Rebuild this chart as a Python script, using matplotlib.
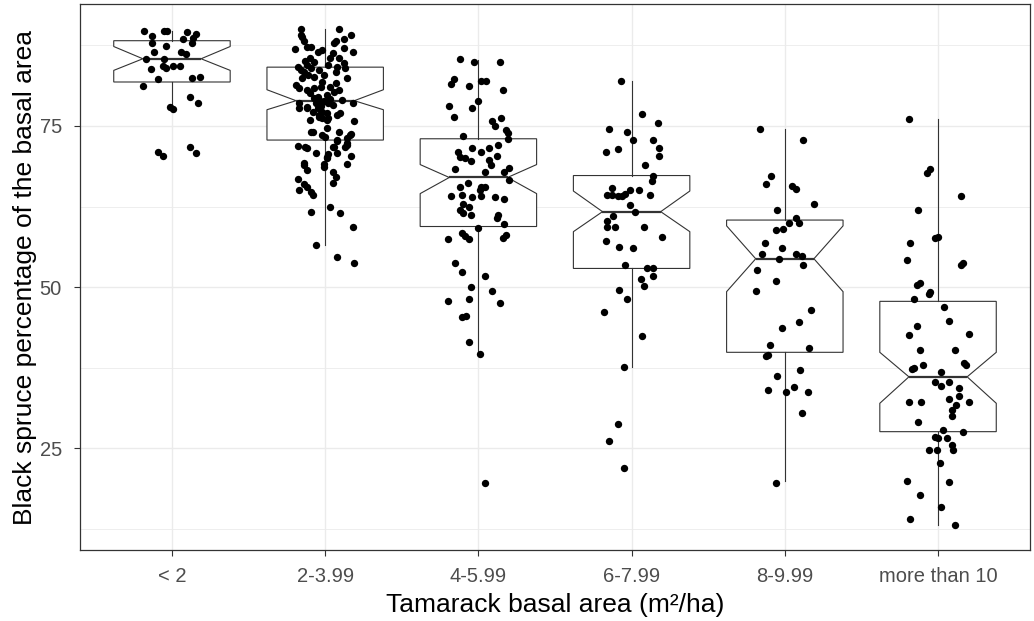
import matplotlib
matplotlib.use("Agg")
import matplotlib.pyplot as plt
import numpy as np

plt.rcParams['font.family'] = ['Liberation Sans', 'DejaVu Sans']

categories = ["< 2", "2-3.99", "4-5.99", "6-7.99", "8-9.99", "more than 10"]

# black spruce % per tamarack class, with the horizontal jitter
vals_lt2 = [89.7, 89.0, 89.7, 89.7, 89.5, 89.2, 88.6, 88.4, 87.9, 87.9, 87.4, 86.4,
            86.4, 86.2, 85.3, 85.3, 83.8, 84.3, 84.0, 84.3, 84.3, 82.2, 82.4, 82.6,
            81.2, 79.4, 78.5, 77.9, 77.6, 71.0, 70.4, 71.7, 70.8]
jit_lt2 = [-0.18, -0.13, -0.05, -0.03, 0.10, 0.16, 0.14, 0.07, 0.13, -0.13, -0.04, -0.12,
           0.06, 0.09, -0.17, -0.05, -0.14, -0.06, -0.04, 0.01, 0.05, -0.09, 0.13, 0.18,
           -0.19, 0.12, 0.17, -0.01, 0.01, -0.09, -0.06, 0.12, 0.16]

vals_2_4 = [90.0, 90.0, 89.1, 88.8, 89.1, 88.4, 88.1, 86.9, 87.3, 87.3, 87.9, 88.1,
            87.0, 86.4, 86.5, 86.8, 86.3, 85.5, 84.7, 85.0, 84.5, 84.2, 83.7, 83.4,
            83.9, 83.7, 84.5, 84.2, 83.9, 82.9, 82.6, 82.9, 83.4, 82.4, 81.4, 80.8,
            80.6, 80.8, 81.7, 80.6, 81.1, 80.1, 79.5, 79.8, 80.3, 78.5, 77.7, 78.0,
            78.5, 77.7, 78.8, 78.5, 78.3, 77.2, 77.0, 76.4, 76.2, 76.7, 77.0, 78.6,
            75.8, 74.0, 73.6, 73.3, 74.6, 74.1, 73.6, 73.7, 72.6, 72.3, 71.8, 71.9,
            71.7, 71.8, 70.8, 70.7, 70.2, 70.8, 70.4, 69.1, 69.1, 69.2, 68.2, 67.9,
            67.1, 66.7, 66.0, 65.0, 64.7, 64.3, 66.2, 61.7, 62.5, 61.5, 59.4, 56.5,
            54.6, 53.7,
            77.8, 76.7, 76.2, 75.9, 74.0, 73.1, 71.6, 72.8, 71.8, 72.1, 70.0, 68.6,
            69.0, 65.6, 79.3, 79.0, 79.2, 78.1, 77.2, 85.5, 84.9, 85.5, 81.8, 81.0,
            82.4, 79.0, 75.9]
jit_2_4 = [-0.16, 0.09, -0.16, -0.15, 0.17, 0.12, -0.14, -0.20, -0.12, -0.09, 0.06, 0.07,
           0.12, 0.18, -0.05, -0.02, 0.05, 0.09, 0.12, -0.13, -0.12, -0.18, -0.16, -0.14,
           -0.09, -0.04, 0.02, 0.08, 0.13, -0.11, -0.07, -0.01, 0.07, 0.14, -0.19, -0.17,
           -0.12, -0.07, 0.07, 0.09, -0.03, -0.10, -0.05, 0.01, 0.06, -0.17, -0.17, -0.12,
           -0.06, -0.05, -0.01, 0.02, 0.05, -0.02, 0.01, -0.04, 0.02, 0.08, 0.10, 0.18,
           0.19, -0.09, -0.02, 0.00, 0.01, 0.09, 0.16, 0.17, 0.08, 0.14, 0.13, -0.18,
           -0.13, 0.06, -0.06, 0.02, 0.01, 0.08, 0.17, -0.01, 0.14, -0.14, -0.12, 0.05,
           0.07, -0.18, -0.14, -0.17, -0.09, -0.08, 0.05, -0.09, 0.03, 0.10, 0.18, -0.06,
           0.08, 0.19,
           -0.12, -0.04, -0.02, 0.01, -0.08, 0.14, -0.12, 0.08, 0.05, 0.14, 0.01, -0.01,
           -0.14, -0.12, -0.07, -0.04, 0.03, -0.03, -0.08, -0.10, -0.07, 0.03, -0.02, 0.03,
           -0.15, 0.11, -0.10]

vals_4_6 = [85.3, 84.9, 84.9, 82.2, 81.5, 81.2, 81.9, 82.0, 80.6, 78.9, 78.1, 77.8,
            76.4, 75.7, 75.0, 76.2, 74.4, 73.9, 72.9, 73.5, 71.6, 71.0, 71.6, 72.1,
            70.9, 70.2, 70.0, 69.6, 69.7, 69.0, 70.4, 68.3, 67.9, 67.9, 68.5, 66.6,
            66.2, 65.6, 64.3, 65.6, 65.6, 65.0, 64.2, 64.0, 64.1, 64.0, 63.7, 62.9,
            62.5, 62.0, 61.5, 61.2, 61.2, 60.7, 59.8, 59.2, 57.5, 58.4, 57.9, 57.5,
            58.1, 57.6, 53.8, 52.3, 51.7, 50.0, 49.4, 47.9, 48.2, 47.6, 45.3, 45.5,
            41.5, 39.7, 19.6]
jit_4_6 = [-0.12, -0.03, 0.14, -0.16, -0.18, -0.06, 0.02, 0.05, 0.16, 0.00, -0.19, -0.04,
           -0.16, 0.09, 0.11, 0.15, 0.18, 0.19, 0.19, -0.10, -0.04, 0.02, 0.07, 0.13,
           -0.13, -0.12, -0.09, -0.05, 0.07, 0.08, 0.12, -0.15, 0.04, 0.17, 0.20, 0.20,
           -0.07, -0.12, -0.11, 0.02, 0.04, 0.01, -0.18, -0.04, 0.02, 0.11, 0.17, -0.10,
           -0.06, -0.12, -0.10, -0.05, 0.13, 0.12, 0.17, 0.00, -0.20, -0.11, -0.09, -0.06,
           0.18, 0.16, -0.15, -0.11, 0.04, -0.05, 0.09, -0.20, -0.06, 0.14, -0.11, -0.08,
           -0.06, 0.01, 0.04]

vals_6_8 = [82.0, 76.9, 75.4, 74.5, 74.1, 72.8, 72.8, 71.6, 70.4, 71.0, 71.4, 69.0,
            67.3, 66.4, 65.4, 64.3, 64.3, 64.1, 64.1, 64.4, 65.0, 65.0, 64.3, 62.7,
            61.6, 61.1, 60.3, 59.4, 59.4, 59.4, 57.7, 57.1, 56.3, 56.1, 53.4, 53.0,
            53.0, 51.7, 51.3, 50.2, 49.6, 48.2, 46.1, 42.4, 37.6, 28.8, 26.2, 22.0]
jit_6_8 = [-0.07, 0.07, 0.17, -0.15, -0.03, 0.01, 0.14, 0.18, 0.18, -0.17, -0.09, 0.09,
           0.14, 0.13, -0.13, -0.16, -0.13, -0.09, -0.06, -0.04, -0.01, 0.05, 0.12, -0.01,
           0.02, -0.12, -0.16, -0.16, -0.11, 0.08, 0.20, -0.17, -0.08, 0.01, -0.04, 0.10,
           0.14, 0.14, 0.06, 0.08, -0.08, -0.03, -0.18, 0.07, -0.05, -0.09, -0.15, -0.05]

vals_8_10 = [74.5, 72.8, 67.3, 66.0, 65.7, 65.2, 62.9, 61.9, 60.7, 60.0, 59.9, 58.8,
             59.0, 56.8, 56.1, 55.2, 55.2, 54.9, 54.4, 52.7, 53.4, 51.0, 49.4, 46.5,
             44.6, 43.6, 41.1, 40.5, 39.3, 39.5, 37.2, 36.2, 34.1, 33.8, 34.5, 33.8,
             30.5, 19.6]
jit_8_10 = [-0.16, 0.12, -0.09, -0.12, 0.05, 0.07, 0.19, -0.05, 0.07, 0.09, 0.03, -0.06,
            -0.01, -0.13, -0.02, -0.15, 0.07, 0.11, -0.04, -0.18, 0.12, -0.06, -0.19, 0.17,
            0.09, -0.02, -0.10, 0.16, -0.12, -0.11, 0.10, -0.05, -0.11, 0.01, 0.06, 0.15,
            0.11, -0.06]

vals_10 = [76.0, 68.3, 67.7, 64.2, 61.9, 57.6, 57.8, 56.9, 54.2, 53.8, 53.4, 50.3,
           50.6, 48.9, 49.2, 48.2, 46.9, 44.8, 44.0, 42.6, 42.8, 40.2, 40.2, 38.0,
           37.3, 37.4, 38.2, 37.9, 36.8, 35.3, 34.7, 35.3, 34.3, 33.1, 32.2, 32.2,
           32.7, 31.8, 32.2, 30.9, 30.0, 29.1, 27.9, 27.5, 26.8, 26.6, 26.6, 24.8,
           24.8, 25.6, 24.8, 22.8, 20.0, 19.8, 17.8, 16.0, 14.0, 13.1]
jit_10 = [-0.19, -0.05, -0.07, 0.15, -0.13, -0.02, 0.00, -0.18, -0.20, 0.16, 0.15, -0.14,
          -0.12, -0.06, -0.05, -0.16, 0.04, 0.07, -0.14, -0.19, 0.20, -0.12, 0.11, -0.10,
          -0.17, -0.16, 0.17, 0.18, 0.02, -0.02, 0.02, 0.07, 0.14, 0.14, -0.19, -0.11,
          0.07, 0.12, 0.20, 0.09, 0.09, -0.13, 0.03, 0.16, -0.02, 0.00, 0.06, -0.06,
          -0.01, 0.09, 0.10, 0.01, -0.20, 0.07, -0.12, 0.02, -0.18, 0.11]

# notched box summaries
medians = [85.4, 78.9, 67.0, 61.7, 54.4, 36.1]
q1s = [81.8, 72.8, 59.4, 52.9, 39.9, 27.6]
q3s = [88.2, 84.1, 73.0, 67.3, 60.4, 47.8]
notch_lo = [83.6, 77.5, 64.5, 58.6, 49.3, 32.0]
notch_hi = [87.3, 80.6, 69.0, 64.9, 59.5, 39.9]
whisk_lo = [77.5, 56.6, 39.7, 37.7, 19.9, 13.2]
whisk_hi = [89.7, 90.0, 85.2, 82.0, 74.5, 76.0]


def main():
    all_vals = [vals_lt2, vals_2_4, vals_4_6, vals_6_8, vals_8_10, vals_10]
    all_jit = [jit_lt2, jit_2_4, jit_4_6, jit_6_8, jit_8_10, jit_10]
    pos = np.arange(1, len(categories) + 1)

    fig = plt.figure(figsize=(10.34, 6.21), dpi=100)
    ax = fig.add_axes([0.0774, 0.1143, 0.9187, 0.8788])

    stats = []
    for i in range(len(categories)):
        stats.append(dict(med=medians[i], q1=q1s[i], q3=q3s[i],
                          cilo=notch_lo[i], cihi=notch_hi[i],
                          whislo=whisk_lo[i], whishi=whisk_hi[i], fliers=[]))

    line = dict(color="#333333", linewidth=0.8)
    ax.bxp(stats, positions=pos, widths=0.76, shownotches=True, showcaps=False,
           showfliers=False, patch_artist=True,
           boxprops=dict(facecolor="white", edgecolor="#333333", linewidth=0.8),
           whiskerprops=line, medianprops=dict(color="#333333", linewidth=1.6),
           zorder=2)

    for i in range(len(categories)):
        x = pos[i] + np.array(all_jit[i])
        ax.scatter(x, all_vals[i], s=28, color="black", linewidths=0, zorder=3)

    lo = min(min(v) for v in all_vals)
    hi = max(max(v) for v in all_vals)
    pad = 0.05 * (hi - lo)
    ax.set_ylim(lo - pad, hi + pad)
    ax.set_xlim(0.4, len(categories) + 0.6)

    ax.set_yticks([25, 50, 75])
    ax.set_yticks([12.5, 37.5, 62.5, 87.5], minor=True)
    ax.set_xticks(pos)
    ax.set_xticklabels(categories)
    ax.grid(which="major", color="#EBEBEB", linewidth=1.0)
    ax.grid(which="minor", axis="y", color="#EBEBEB", linewidth=0.6)
    ax.set_axisbelow(True)

    for s in ax.spines.values():
        s.set_color("#333333")
        s.set_linewidth(0.9)
    ax.tick_params(which="major", length=4, width=0.8, color="#333333",
                   labelsize=14.5, labelcolor="#4D4D4D")
    ax.tick_params(axis="x", pad=8)
    ax.tick_params(axis="y", pad=9)
    ax.tick_params(which="minor", length=0)

    ax.set_xlabel("Tamarack basal area (m²/ha)", fontsize=19, labelpad=5)
    ax.set_ylabel("Black spruce percentage of the basal area", fontsize=19, labelpad=2)

    fig.savefig("out.png", dpi=100)


main()
